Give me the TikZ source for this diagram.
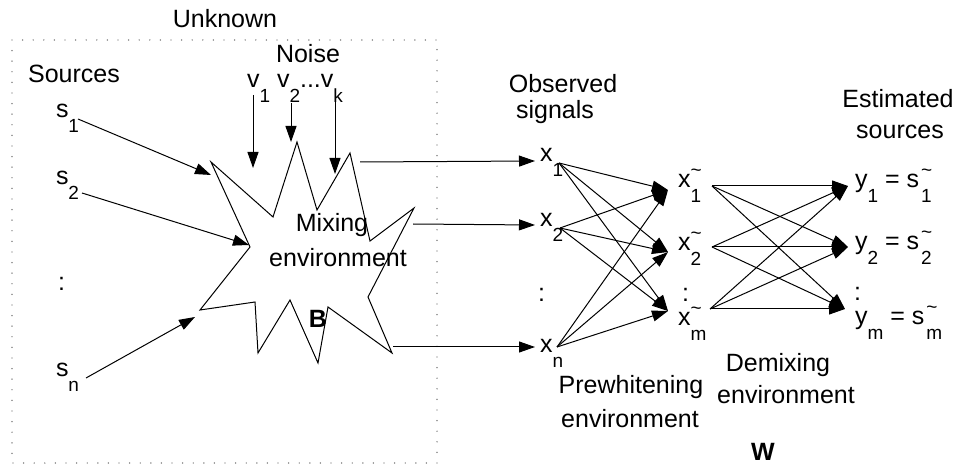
\documentclass[tikz,border=0pt]{standalone}
\usepackage{fontspec}
\setmainfont{Liberation Sans}
\usetikzlibrary{arrows.meta}
% lowered index and tilde-with-index, set in a smaller size
\newcommand\lo[1]{\raisebox{-14.5pt}{\fontsize{19}{19}\selectfont #1}}
\newcommand\tl[1]{\makebox[0pt][l]{\raisebox{11pt}{\fontsize{19}{19}\selectfont\textasciitilde}}\lo{#1}}
\begin{document}
\begin{tikzpicture}[x=1pt,y=-1pt,
  every node/.style={font=\fontsize{25}{29}\selectfont, inner sep=0pt, outer sep=0pt},
  lbl/.style={anchor=base west},
  caption/.style={anchor=base},
  conn/.style={line width=1pt, -{Triangle[length=16pt,width=11pt]}},
  frame/.style={line width=1.4pt, black!65, dash pattern=on 0pt off 10.6pt, line cap=round},
  blob/.style={line width=1pt, fill=white}]
\useasboundingbox (0,0) rectangle (959,470);

% dotted frame around the unknown part
\draw[frame] (12,40) rectangle (437,463);

% mixing environment (star shape)
\draw[blob] (211,162) -- (273,217) -- (297,142) -- (317,210) -- (350,153)
  -- (370,241) -- (414,208) -- (368,297) -- (392,353) -- (328,307)
  -- (318,363) -- (290,300) -- (258,353) -- (255,302) -- (200,310)
  -- (250,247) -- cycle;

% captions
\node[caption] (unk) at (225,28) {Unknown};
\node[caption] (noise) at (308,63) {Noise};
\node[caption] (src) at (74,83) {Sources};
\node[caption] (mix1) at (332,232) {Mixing};
\node[caption] (mix2) at (338,267) {environment};
\node[caption] (B) at (318,328) {\bfseries B};
\node[caption] (obs1) at (563,93) {Observed};
\node[caption] (obs2) at (555,119) {signals};
\node[caption] (est1) at (898,108) {Estimated};
\node[caption] (est2) at (900,139) {sources};
\node[caption] (pw1) at (631,394) {Prewhitening};
\node[caption] (pw2) at (630,427) {environment};
\node[caption] (dm1) at (778,372) {Demixing};
\node[caption] (dm2) at (786,403) {environment};
\node[caption] (W) at (763,460) {\bfseries W};

% sources and noise
\node[lbl] (s1) at (56,118) {s\lo{1}};
\node[lbl] (s2) at (56,185) {s\lo{2}};
\node[lbl] (sd) at (58,291) {:};
\node[lbl] (sn) at (56,377) {s\lo{n}};
\node[lbl] (v) at (247,88) {v\lo{1} v\lo{2}...v\lo{k}};

% observed, prewhitened and estimated signals
\node[lbl] (x1) at (540,162) {x\lo{1}};
\node[lbl] (x2) at (540,227) {x\lo{2}};
\node[lbl] (xd) at (538,302) {:};
\node[lbl] (xn) at (540,353) {x\lo{n}};
\node[lbl] (xt1) at (678,188) {x\tl{1}};
\node[lbl] (xt2) at (678,251) {x\tl{2}};
\node[lbl] (xtd) at (682,302) {:};
\node[lbl] (xtm) at (678,326) {x\tl{m}};
\node[lbl] (y1) at (855,188) {y\lo{1} = s\hspace{2pt}\tl{1}};
\node[lbl] (y2) at (855,250) {y\lo{2} = s\hspace{2pt}\tl{2}};
\node[lbl] (yd) at (854,301) {:};
\node[lbl] (ym) at (855,325) {y\lo{m} = s\hspace{2pt}\tl{m}};

% connector ends
\coordinate (s1o) at (78,119);
\coordinate (s2o) at (82,193);
\coordinate (sno) at (86,378);
\coordinate (s1i) at (211,175);
\coordinate (s2i) at (249,245);
\coordinate (sni) at (195,317);
\coordinate (v1o) at (253,95);
\coordinate (v2o) at (291,103);
\coordinate (vko) at (335,95);
\coordinate (v1i) at (253,168);
\coordinate (v2i) at (291,142);
\coordinate (vki) at (335,174);
\coordinate (o1) at (360,162);
\coordinate (o2) at (413,224);
\coordinate (o3) at (393,347);
\coordinate (x1i) at (535,161);
\coordinate (x2i) at (535,225);
\coordinate (xni) at (535,347);
\coordinate (x1o) at (559,163);
\coordinate (x2o) at (560,228);
\coordinate (xno) at (557,347);
\coordinate (t1) at (668,190);
\coordinate (t2) at (668,252);
\coordinate (tm) at (668,311);
\coordinate (u1) at (712,186);
\coordinate (u2) at (712,247);
\coordinate (um) at (710,309);
\coordinate (r1) at (848,186);
\coordinate (r2) at (848,247);
\coordinate (rm) at (845,309);

% sources and noise into the mixing environment
\draw[conn] (s1o) -- (s1i);
\draw[conn] (s2o) -- (s2i);
\draw[conn] (sno) -- (sni);
\draw[conn] (v1o) -- (v1i);
\draw[conn] (v2o) -- (v2i);
\draw[conn] (vko) -- (vki);

% mixed signals out
\draw[conn] (o1) -- (x1i);
\draw[conn] (o2) -- (x2i);
\draw[conn] (o3) -- (xni);

% prewhitening: every x to every whitened x
\foreach \a in {x1o,x2o,xno}
  \foreach \b in {t1,t2,tm}
    \draw[conn] (\a) -- (\b);

% demixing: every whitened x to every output
\foreach \a in {u1,u2,um}
  \foreach \b in {r1,r2,rm}
    \draw[conn] (\a) -- (\b);
\end{tikzpicture}
\end{document}
